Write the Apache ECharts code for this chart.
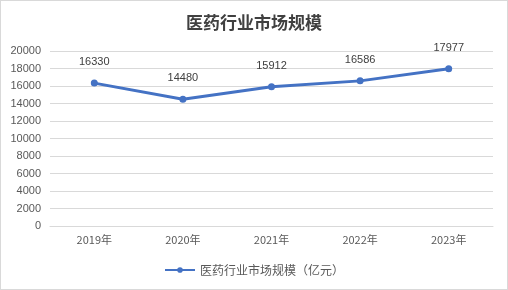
<!DOCTYPE html>
<html><head><meta charset="utf-8">
<script src="https://cdn.jsdelivr.net/npm/echarts@6/dist/echarts.min.js"></script>
<style>html,body{margin:0;padding:0;background:#fff}#c{width:508px;height:290px;box-sizing:border-box;border:1px solid #d9d9d9}</style>
</head><body><div id="c"></div>
<script>
var categories = ['2019年','2020年','2021年','2022年','2023年'];
var values = [16330, 14480, 15912, 16586, 17977];
var seriesName = '医药行业市场规模（亿元）';
var chart = echarts.init(document.getElementById('c'));
chart.setOption({
  animation:false,
  title:{text:'医药行业市场规模',left:'center',top:8,textStyle:{fontFamily:'Noto Sans CJK SC',fontSize:17,fontWeight:'bold',color:'#404040'}},
  grid:{left:49,right:14,top:50,bottom:63},
  legend:{bottom:8,left:'center',itemWidth:30,itemHeight:7,textStyle:{fontFamily:'Noto Sans CJK SC',fontSize:12,color:'#595959'},data:[seriesName]},
  xAxis:{type:'category',data:categories,boundaryGap:true,axisLine:{lineStyle:{color:'#d9d9d9'}},axisTick:{show:false},axisLabel:{color:'#595959',fontSize:11,fontFamily:'Noto Sans CJK SC',margin:8}},
  yAxis:{type:'value',min:0,max:20000,interval:2000,axisLine:{show:false},axisTick:{show:false},splitLine:{lineStyle:{color:'#d9d9d9'}},axisLabel:{color:'#595959',fontSize:11,fontFamily:'Liberation Sans',margin:9,formatter:function(v){return String(v);}}},
  series:[{name:seriesName,type:'line',data:values,symbol:'circle',symbolSize:7,
    itemStyle:{color:'#4472C4'},lineStyle:{color:'#4472C4',width:3},
    label:{show:true,position:'top',distance:12,color:'#404040',fontSize:11,fontFamily:'Liberation Sans'}}]
});
</script></body></html>
